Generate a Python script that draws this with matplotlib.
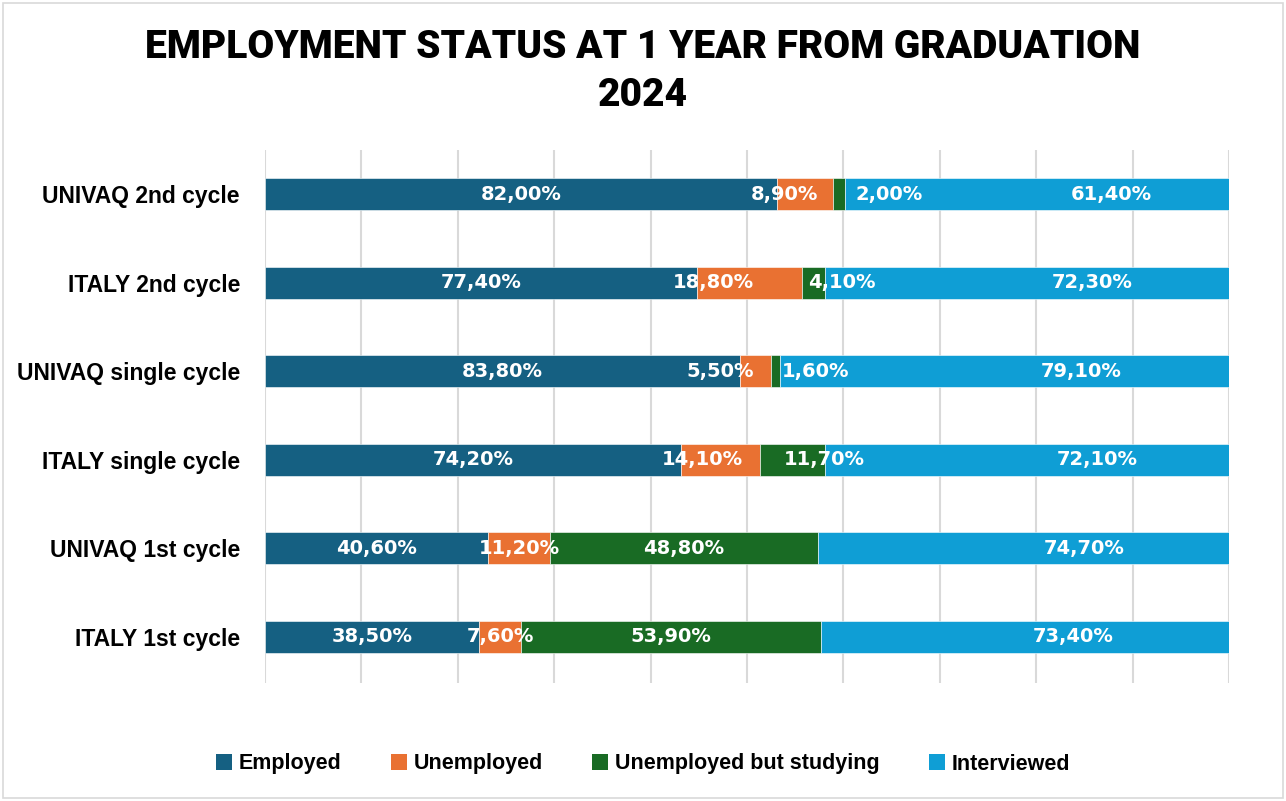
import matplotlib
matplotlib.use("Agg")
import matplotlib.pyplot as plt
from matplotlib.patches import Rectangle, Patch
import numpy as np

categories = ["UNIVAQ 2nd cycle", "ITALY 2nd cycle", "UNIVAQ single cycle",
              "ITALY single cycle", "UNIVAQ 1st cycle", "ITALY 1st cycle"]
series_names = ["Employed", "Unemployed", "Unemployed but studying", "Interviewed"]
employed = [82.0, 77.4, 83.8, 74.2, 40.6, 38.5]
unemployed = [8.9, 18.8, 5.5, 14.1, 11.2, 7.6]
unemployed_studying = [2.0, 4.1, 1.6, 11.7, 48.8, 53.9]
interviewed = [61.4, 72.3, 79.1, 72.1, 74.7, 73.4]

colors = ["#156082", "#E97132", "#196B24", "#0F9ED5"]
# label nudges (pixels) to mimic manually placed data labels
label_nudge_px = [
    [0, -21, 50, 74],
    [0, -36, 28, 65],
    [0, -36, 40, 76],
    [0, -18, 32, 70],
    [0, 0, 0, 61],
    [0, 0, 0, 48],
]

W, H = 1286, 801
fig = plt.figure(figsize=(W / 100, H / 100), dpi=100)
fig.patch.set_facecolor("white")
fig.add_artist(Rectangle((3 / W, 3 / H), (W - 6) / W, (H - 6) / H, transform=fig.transFigure,
                         fill=False, edgecolor="#d9d9d9", linewidth=1.2))

ax_left, ax_right = 265 / W, 1229 / W
ax_top, ax_bot = 1 - 150 / H, 1 - 683 / H
ax = fig.add_axes([ax_left, ax_bot, ax_right - ax_left, ax_top - ax_bot])

data = np.array([employed, unemployed, unemployed_studying, interviewed])
totals = data.sum(axis=0)
shares = data / totals
y = np.arange(len(categories))
px_per_unit = (ax_right - ax_left) * W

left = np.zeros(len(categories))
for i, name in enumerate(series_names):
    ax.barh(y, shares[i], left=left, height=0.36, color=colors[i], label=name,
            edgecolor="white", linewidth=0.4, zorder=3)
    for j in range(len(categories)):
        xc = left[j] + shares[i][j] / 2 + label_nudge_px[j][i] / px_per_unit
        txt = f"{data[i][j]:.2f}%".replace(".", ",")
        ax.text(xc, y[j], txt, ha="center", va="center", color="white",
                fontsize=14, fontweight="bold", family=["DejaVu Sans"], zorder=4)
    left += shares[i]

ax.set_xlim(0, 1)
ax.set_ylim(5.52, -0.5)
ax.set_xticks(np.arange(0, 1.01, 0.1))
ax.set_xticklabels([])
ax.tick_params(axis="x", length=0)
ax.tick_params(axis="y", length=0, pad=18)
ax.set_yticks(y)
ax.set_yticklabels(categories, fontsize=16.5, fontweight="bold",
                   family=["Liberation Sans Narrow", "Liberation Sans"])
ax.grid(axis="x", color="#d9d9d9", linewidth=1.5, zorder=0)
for s in ax.spines.values():
    s.set_visible(False)

fig.text(0.5, 1 - 48 / H, "EMPLOYMENT STATUS AT 1 YEAR FROM GRADUATION", ha="center", va="center",
         fontsize=28, fontweight="black", family=["Roboto", "DejaVu Sans"])
fig.text(0.5, 1 - 95 / H, "2024", ha="center", va="center",
         fontsize=28, fontweight="black", family=["Roboto", "DejaVu Sans"])

handles = [Patch(facecolor=c, edgecolor="none") for c in colors]
leg = fig.legend(handles, series_names, loc="center", bbox_to_anchor=(0.5, 1 - 764 / H),
                 ncol=4, frameon=False, handlelength=0.75, handleheight=0.75,
                 handletextpad=0.3, columnspacing=2.3,
                 prop={"size": 15.5, "weight": "bold", "family": ["Liberation Sans Narrow", "Liberation Sans"]})

fig.savefig("out.png", dpi=100, facecolor="white")
